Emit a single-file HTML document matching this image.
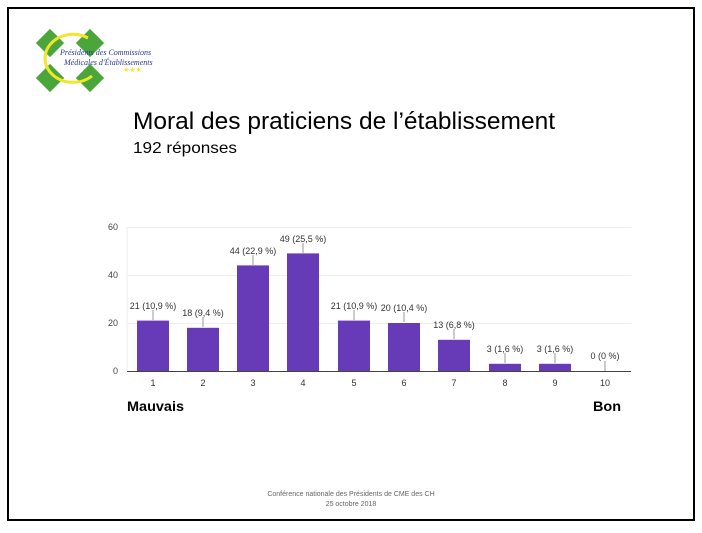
<!DOCTYPE html>
<html><head><meta charset="utf-8"><style>
html,body{margin:0;padding:0;background:#fff;}
</style></head><body>
<svg width="702" height="528" xmlns="http://www.w3.org/2000/svg" font-family="Liberation Sans, Arial, sans-serif">
<rect x="0" y="0" width="702" height="528" fill="#fff"/>
<rect x="8" y="8" width="686" height="512" fill="none" stroke="#000" stroke-width="2"/>
<g>
<rect x="40" y="33" width="20" height="20" fill="#4aa53a" transform="rotate(45 50 43)"/>
<rect x="80" y="33" width="20" height="20" fill="#4aa53a" transform="rotate(45 90 43)"/>
<rect x="40" y="68" width="20" height="20" fill="#4aa53a" transform="rotate(45 50 78)"/>
<rect x="80" y="68" width="20" height="20" fill="#4aa53a" transform="rotate(45 90 78)"/>
<path d="M88 38 A28 24 0 1 0 92 76" fill="none" stroke="#f2e52a" stroke-width="3"/>
<text x="60" y="55" font-size="8" font-style="italic" fill="#2b3b8f" font-family="Liberation Serif, serif">Présidents des Commissions</text>
<text x="64" y="65" font-size="8" font-style="italic" fill="#2b3b8f" font-family="Liberation Serif, serif">Médicales d'Établissements</text>
<text x="123" y="72" font-size="7" fill="#f2e52a">★★★</text>
</g>
<text x="133" y="129" font-size="24" fill="#000" textLength="422" lengthAdjust="spacingAndGlyphs">Moral des praticiens de l’établissement</text>
<text x="133" y="153" font-size="16" fill="#000" textLength="104" lengthAdjust="spacingAndGlyphs">192 réponses</text>
<g stroke="#eee" stroke-width="1">
<line x1="127" y1="227.5" x2="631" y2="227.5"/>
<line x1="127" y1="275.5" x2="631" y2="275.5"/>
<line x1="127" y1="323.5" x2="631" y2="323.5"/>
<line x1="127" y1="227" x2="127" y2="371"/>
</g>
<g font-size="9" fill="#444" text-anchor="end">
<text x="118" y="230">60</text>
<text x="118" y="278">40</text>
<text x="118" y="326">20</text>
<text x="118" y="374">0</text>
</g>
<g fill="#673ab7">
<rect x="137" y="320.6" width="32" height="50.4"/>
<rect x="187" y="327.8" width="32" height="43.2"/>
<rect x="237" y="265.4" width="32" height="105.6"/>
<rect x="287" y="253.4" width="32" height="117.6"/>
<rect x="338" y="320.6" width="32" height="50.4"/>
<rect x="388" y="323" width="32" height="48"/>
<rect x="438" y="339.8" width="32" height="31.2"/>
<rect x="489" y="363.8" width="32" height="7.2"/>
<rect x="539" y="363.8" width="32" height="7.2"/>
</g>
<line x1="127" y1="371.5" x2="631" y2="371.5" stroke="#444" stroke-width="1"/>
<g stroke="#999" stroke-width="1">
<line x1="153" y1="320" x2="153" y2="310"/>
<line x1="203" y1="327" x2="203" y2="317"/>
<line x1="253" y1="265" x2="253" y2="255"/>
<line x1="303" y1="253" x2="303" y2="243"/>
<line x1="354" y1="320" x2="354" y2="310"/>
<line x1="404" y1="322" x2="404" y2="312"/>
<line x1="454" y1="339" x2="454" y2="329"/>
<line x1="505" y1="363" x2="505" y2="353"/>
<line x1="555" y1="363" x2="555" y2="353"/>
<line x1="605" y1="371" x2="605" y2="361"/>
</g>
<g font-size="9" fill="#333" text-anchor="middle">
<text x="153" y="309">21 (10,9 %)</text>
<text x="203" y="316">18 (9,4 %)</text>
<text x="253" y="254">44 (22,9 %)</text>
<text x="303" y="242">49 (25,5 %)</text>
<text x="354" y="309">21 (10,9 %)</text>
<text x="404" y="311">20 (10,4 %)</text>
<text x="454" y="328">13 (6,8 %)</text>
<text x="505" y="352">3 (1,6 %)</text>
<text x="555" y="352">3 (1,6 %)</text>
<text x="605" y="359">0 (0 %)</text>
</g>
<g font-size="9" fill="#333" text-anchor="middle">
<text x="153" y="386">1</text><text x="203" y="386">2</text><text x="253" y="386">3</text>
<text x="303" y="386">4</text><text x="354" y="386">5</text><text x="404" y="386">6</text>
<text x="454" y="386">7</text><text x="505" y="386">8</text><text x="555" y="386">9</text>
<text x="605" y="386">10</text>
</g>
<text x="127" y="411" font-size="14" fill="#000" font-weight="bold" textLength="57" lengthAdjust="spacingAndGlyphs">Mauvais</text>
<text x="593" y="411" font-size="14" fill="#000" font-weight="bold" textLength="28" lengthAdjust="spacingAndGlyphs">Bon</text>
<text x="351" y="496" font-size="7" fill="#666" text-anchor="middle">Conférence nationale des Présidents de CME des CH</text>
<text x="351" y="506" font-size="7" fill="#666" text-anchor="middle">25 octobre 2018</text>
</svg>
</body></html>
